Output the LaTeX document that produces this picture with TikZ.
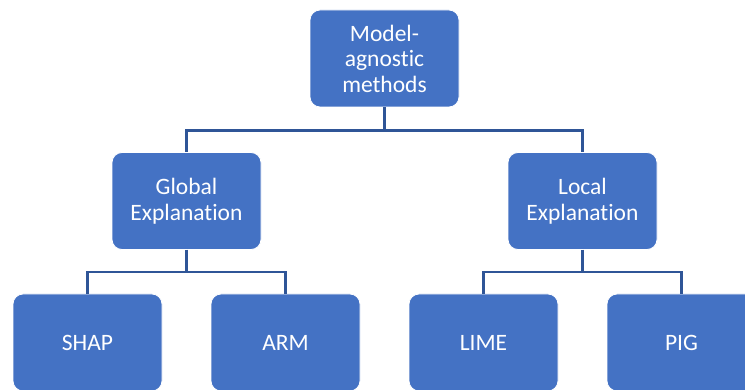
\documentclass[tikz,border=0pt]{standalone}
\usepackage{fontspec}
\setmainfont{Carlito}[Ligatures={NoCommon,NoContextual}]
\usepackage{tikz}
\usepackage{xcolor}
\usetikzlibrary{positioning}

\definecolor{boxblue}{HTML}{4472C4}
\definecolor{linkblue}{HTML}{2F5597}

\begin{document}
\begin{tikzpicture}[x=1pt, y=1pt,
        box/.style={rectangle, rounded corners=10pt, draw=white, line width=0.8pt, fill=boxblue,
            minimum width=149pt, minimum height=97pt, align=center, text=white,
            font=\fontsize{23.5}{25.5}\selectfont},
        link/.style={draw=linkblue, line width=2.4pt}]
        \useasboundingbox (0, 0) rectangle (745, -390);

        \node[box] (model) at (384.5, -58.5) {Model-\\agnostic\\methods};
        \node[box] (global) at (186.5, -201) {Global\\Explanation};
        \node[box] (local) at (582.5, -201) {Local\\Explanation};
        \node[box] (shap) at (87.5, -342.5) {SHAP};
        \node[box] (arm) at (285.5, -342.5) {ARM};
        \node[box] (lime) at (483.5, -342.5) {LIME};
        \node[box] (pig) at (681.5, -342.5) {PIG};

        % elbow links, one level at a time
        \draw[link] (model.south) -- ++(0, -23) -| (global.north);
        \draw[link] (model.south) -- ++(0, -23) -| (local.north);
        \draw[link] (global.south) -- ++(0, -22) -| (shap.north);
        \draw[link] (global.south) -- ++(0, -22) -| (arm.north);
        \draw[link] (local.south) -- ++(0, -22) -| (lime.north);
        \draw[link] (local.south) -- ++(0, -22) -| (pig.north);
\end{tikzpicture}
\end{document}
